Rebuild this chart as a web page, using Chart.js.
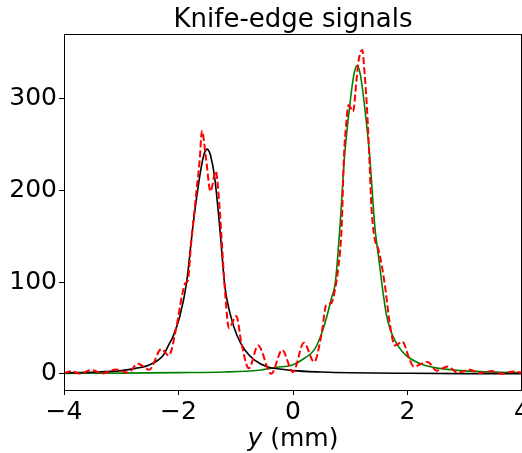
<!DOCTYPE html>
<html>
<head>
<meta charset="utf-8">
<script src="https://cdn.jsdelivr.net/npm/chart.js@4"></script>
<style>
  body { margin: 0; background: #fff; }
  canvas { display: block; }
</style>
</head>
<body>
<canvas id="chart" width="522" height="453"></canvas>
<script>
// axis ticks
const xTicks = [-4, -2, 0, 2, 4];
const yTicks = [0, 100, 200, 300];

// measured signal (red dashed)
const redX = [-4.0, -3.87, -3.73, -3.52, -3.32, -3.10, -2.88, -2.71, -2.51, -2.30, -2.17, -2.04, -1.93, -1.88, -1.84,
  -1.78, -1.69, -1.63, -1.59, -1.52, -1.44, -1.35, -1.28, -1.25, -1.18, -1.12, -0.99, -0.90, -0.77, -0.61, -0.38,
  -0.19, 0.0, 0.19, 0.37, 0.50, 0.58, 0.67, 0.73, 0.79, 0.85, 0.89, 0.93, 0.97, 1.05, 1.11, 1.15, 1.21, 1.25, 1.29,
  1.33, 1.37, 1.43, 1.47, 1.51, 1.60, 1.69, 1.78, 1.91, 2.04, 2.11, 2.35, 2.51, 2.70, 2.88, 3.09, 3.26, 3.47, 3.64,
  3.85, 4.0];
const redY = [1, 3, 0.3, 4, 0.5, 4.8, 1.3, 11, 4.6, 27, 20, 50, 88, 99, 101,
  142, 197, 233, 265, 235, 199, 221, 179, 150, 84, 50, 63, 33, 6, 31, 0,
  26, 2, 34, 13, 44, 75, 77, 91, 115, 160, 237, 273, 293, 286, 321, 343, 353, 328, 292,
  241, 182, 146, 140, 131, 99, 55, 31, 35, 15, 8, 13, 3.5, 8, 1.3, 4.6, 1, 3, 0,
  2.7, 1];

// left knife-edge fit (black)
const blackX = [-4.0, -3.5, -3.0, -2.75, -2.5, -2.27, -2.16, -2.10, -1.98, -1.86, -1.75, -1.63, -1.56, -1.53, -1.50,
  -1.47, -1.44, -1.37, -1.28, -1.19, -1.10, -0.98, -0.84, -0.67, -0.44, -0.2, 0.0, 0.5, 1.0, 2.0, 3.0, 4.0];
const blackY = [1.2, 1.8, 3.5, 6, 10, 20, 33, 40, 62, 99, 160, 215, 238, 243, 245,
  243, 238, 215, 160, 95, 66, 42, 26, 15, 7.4, 5, 3.5, 2, 1.2, 0.6, 0.3, 0.2];

// right knife-edge fit (green)
const greenX = [-4.0, -3.0, -2.0, -1.2, -0.6, -0.3, 0.0, 0.2, 0.38, 0.50, 0.58, 0.67, 0.74, 0.82, 0.90, 0.99, 1.06,
  1.09, 1.12, 1.15, 1.18, 1.25, 1.34, 1.43, 1.50, 1.57, 1.63, 1.70, 1.80, 1.90, 2.04, 2.27, 2.5, 2.75, 3.0, 3.5, 4.0];
const greenY = [0.5, 0.8, 1.3, 2, 4, 7, 10, 17, 27, 44, 60, 82, 100, 160, 237, 292, 325,
  333, 336, 333, 325, 292, 237, 160, 125, 90, 65, 48, 34, 25, 17, 10, 6.5, 4.5, 3.3, 2, 1.3];

const toPoints = (xs, ys) => xs.map((x, i) => ({ x: x, y: ys[i] }));
const FONT = 'DejaVu Sans';

// spines, title and x label
const decor = {
  id: 'decor',
  afterDatasetsDraw(chart) {
    const { ctx, chartArea: a } = chart;
    ctx.save();
    ctx.strokeStyle = '#000';
    ctx.lineWidth = 1;
    ctx.strokeRect(a.left + 0.5, a.top + 0.5, a.right - a.left - 1, a.bottom - a.top);
    ctx.restore();
  },
  afterDraw(chart) {
    const { ctx, chartArea: a } = chart;
    const cx = (a.left + a.right) / 2;
    ctx.save();
    ctx.fillStyle = '#000';
    ctx.textBaseline = 'alphabetic';
    ctx.textAlign = 'center';
    ctx.font = '26px "' + FONT + '"';
    ctx.fillText('Knife-edge signals', cx, 27);

    // "y (mm)" with italic y
    const italic = 'italic 25px "' + FONT + '"';
    const normal = '25px "' + FONT + '"';
    ctx.font = italic;
    const w1 = ctx.measureText('y').width;
    ctx.font = normal;
    const w2 = ctx.measureText(' (mm)').width;
    let x0 = cx - (w1 + w2) / 2;
    ctx.textAlign = 'left';
    ctx.font = italic;
    ctx.fillText('y', x0, 446);
    ctx.font = normal;
    ctx.fillText(' (mm)', x0 + w1, 446);
    ctx.restore();
  }
};

const lineStyle = { pointRadius: 0, fill: false, cubicInterpolationMode: 'monotone' };

new Chart(document.getElementById('chart').getContext('2d'), {
  type: 'line',
  data: {
    datasets: [
      { ...lineStyle, label: 'measured', data: toPoints(redX, redY), borderColor: '#ff0000', borderWidth: 2, borderDash: [7, 3] },
      { ...lineStyle, label: 'left edge', data: toPoints(blackX, blackY), borderColor: '#000000', borderWidth: 1.6 },
      { ...lineStyle, label: 'right edge', data: toPoints(greenX, greenY), borderColor: '#008000', borderWidth: 1.6 }
    ]
  },
  options: {
    responsive: false,
    animation: false,
    layout: { padding: { top: 34, right: 0, left: 0, bottom: 0 } },
    plugins: { legend: { display: false }, title: { display: false }, tooltip: { enabled: false } },
    scales: {
      x: {
        type: 'linear',
        min: -4,
        max: 4,
        afterBuildTicks: (s) => { s.ticks = xTicks.map(v => ({ value: v })); },
        afterFit: (s) => { s.height = 63; s.paddingLeft = 0; s.paddingRight = 0; },
        grid: { color: 'rgba(0,0,0,0)', tickColor: '#000', tickLength: 5, drawTicks: true },
        border: { display: true, color: '#000', width: 1 },
        ticks: {
          color: '#000',
          padding: 2,
          maxRotation: 0,
          font: { family: FONT, size: 25 },
          callback: (v) => String(v).replace('-', '\u2212')
        }
      },
      y: {
        type: 'linear',
        min: -17.6,
        max: 370.5,
        afterBuildTicks: (s) => { s.ticks = yTicks.map(v => ({ value: v })); },
        afterFit: (s) => { s.width = 64; },
        grid: { color: 'rgba(0,0,0,0)', tickColor: '#000', tickLength: 5, drawTicks: true },
        border: { display: true, color: '#000', width: 1 },
        ticks: {
          color: '#000',
          padding: 2,
          font: { family: FONT, size: 25 },
          callback: (v) => String(v)
        }
      }
    }
  },
  plugins: [decor]
});
</script>
</body>
</html>
